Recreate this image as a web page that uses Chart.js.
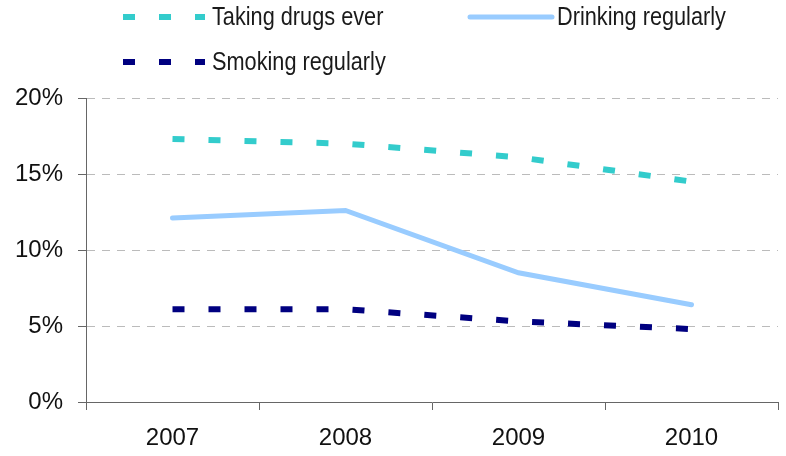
<!DOCTYPE html>
<html>
<head>
<meta charset="utf-8">
<script src="https://cdn.jsdelivr.net/npm/chart.js@4/dist/chart.umd.min.js"></script>
<style>
  html, body { margin: 0; padding: 0; background: #fff; }
  #wrap { width: 786px; height: 456px; position: relative; }
</style>
</head>
<body>
<div id="wrap"><canvas id="c" width="786" height="456"></canvas></div>
<script>
const categories = ['2007', '2008', '2009', '2010'];
const drugsEver = [17.3, 17.0, 16.1, 14.5];
const drinkingRegularly = [12.1, 12.6, 8.5, 6.4];
const smokingRegularly = [6.1, 6.1, 5.3, 4.8];
const seriesLabels = ['Taking drugs ever', 'Drinking regularly', 'Smoking regularly'];
const yTicks = [0, 5, 10, 15, 20];

const legendSpots = [
  { x: 123, y: 17, gap: 7 },
  { x: 470, y: 17, gap: 5 },
  { x: 123, y: 62, gap: 7 }
];

const legendPlugin = {
  id: 'customLegend',
  afterDraw(chart) {
    const ctx = chart.ctx;
    chart.data.datasets.forEach((ds, i) => {
      const p = legendSpots[i];
      const len = 82;
      ctx.save();
      ctx.beginPath();
      ctx.strokeStyle = ds.borderColor;
      ctx.lineWidth = ds.borderWidth;
      ctx.lineCap = ds.borderCapStyle || 'butt';
      ctx.setLineDash(ds.borderDash || []);
      ctx.moveTo(p.x, p.y);
      ctx.lineTo(p.x + len, p.y);
      ctx.stroke();
      ctx.restore();
      ctx.save();
      ctx.fillStyle = '#1a1a1a';
      ctx.font = '26px "Liberation Sans", Arial, sans-serif';
      ctx.textBaseline = 'middle';
      ctx.translate(p.x + len + p.gap, p.y + 1);
      ctx.scale(0.835, 1);
      ctx.fillText(ds.label, 0, 0);
      ctx.restore();
    });
  }
};

new Chart(document.getElementById('c'), {
  type: 'line',
  data: {
    labels: categories,
    datasets: [
      { label: seriesLabels[0], data: drugsEver, borderColor: '#33CCCC', borderWidth: 6,
        borderDash: [12, 24], borderCapStyle: 'butt', pointRadius: 0, tension: 0, fill: false },
      { label: seriesLabels[1], data: drinkingRegularly, borderColor: '#99CCFF', borderWidth: 5,
        borderCapStyle: 'round', pointRadius: 0, tension: 0, fill: false },
      { label: seriesLabels[2], data: smokingRegularly, borderColor: '#000080', borderWidth: 6,
        borderDash: [12, 24], borderCapStyle: 'butt', pointRadius: 0, tension: 0, fill: false }
    ]
  },
  options: {
    responsive: false,
    animation: false,
    devicePixelRatio: 1,
    layout: { padding: { top: 98, right: 8, left: 0, bottom: 0 } },
    plugins: { legend: { display: false }, tooltip: { enabled: false } },
    scales: {
      x: {
        offset: true,
        afterFit(scale) { scale.height = 54; },
        grid: { offset: true, drawOnChartArea: false, drawTicks: true, tickLength: 8,
                tickColor: '#666', color: '#666' },
        border: { display: true, color: '#666', width: 1 },
        ticks: { color: '#111', padding: 14, font: { family: '"Liberation Sans", Arial, sans-serif', size: 24 } }
      },
      y: {
        min: 0, max: 20,
        afterFit(scale) { scale.width = 86; },
        afterBuildTicks(scale) { scale.ticks = yTicks.map(v => ({ value: v })); },
        grid: {
          color: (c) => (c.tick && c.tick.value === 0) ? 'rgba(0,0,0,0)' : '#BBBBBB',
          lineWidth: 1, tickLength: 8, tickColor: '#666', drawTicks: true
        },
        border: { display: true, color: '#666', width: 1, dash: [8, 7] },
        ticks: { color: '#111', padding: 15, callback: (v) => v + '%',
                 font: { family: '"Liberation Sans", Arial, sans-serif', size: 24 } }
      }
    }
  },
  plugins: [legendPlugin]
});
</script>
</body>
</html>
